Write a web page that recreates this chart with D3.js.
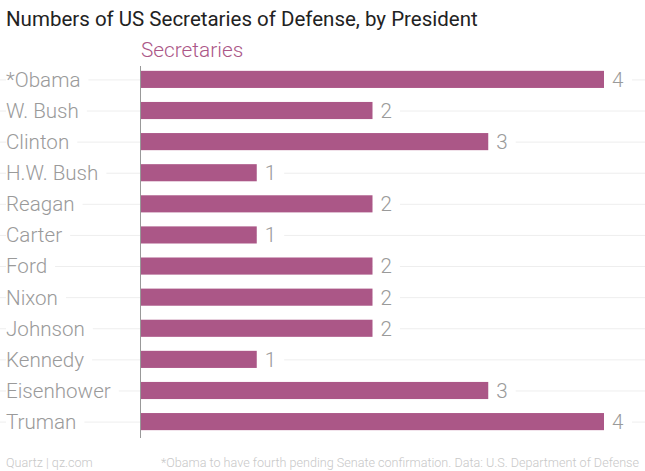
<!DOCTYPE html>
<meta charset="utf-8">
<style>
    body { margin: 0; background: #fff; }
    svg { display: block; font-family: Roboto, "Noto Sans", sans-serif; }
    .title { font-size: 20.5px; fill: #222; }
    .subtitle { font-size: 20.8px; fill: #ab5787; font-weight: 300; }
    .label { font-size: 20.6px; fill: #9a9a9a; font-weight: 300; }
    .value { font-size: 20.6px; fill: #9a9a9a; font-weight: 300; }
    .foot { font-size: 12.6px; fill: #c8c8c8; font-weight: 300; }
    .grid { stroke: #eeeeee; stroke-width: 1; }
</style>
<svg width="645" height="471"></svg>
<script src="https://d3js.org/d3.v7.min.js"></script>
<script>
    var presidents = ["*Obama", "W. Bush", "Clinton", "H.W. Bush", "Reagan", "Carter",
        "Ford", "Nixon", "Johnson", "Kennedy", "Eisenhower", "Truman"];
    var secretaries = [4, 2, 3, 1, 2, 1, 2, 2, 2, 1, 3, 4];

    var svg = d3.select("svg"),
        width = +svg.attr("width"),
        height = +svg.attr("height");

    var x = d3.scaleLinear().domain([0, 4]).range([141, 604]);
    var y = d3.scaleBand().domain(presidents).range([64, 437]).paddingInner(0.45).paddingOuter(0.22);

    var data = presidents.map(function(p, i) { return {name: p, value: secretaries[i]}; });

    // faint row lines
    svg.selectAll(".grid").data(data).enter().append("line")
        .attr("class", "grid")
        .attr("x1", 0).attr("x2", width)
        .attr("y1", function(d) { return y(d.name) + y.bandwidth() / 2 + 0.5; })
        .attr("y2", function(d) { return y(d.name) + y.bandwidth() / 2 + 0.5; });

    // white boxes behind labels so the lines stop short of the text
    var labels = svg.selectAll(".label").data(data).enter().append("text")
        .attr("class", "label")
        .attr("x", 6)
        .attr("y", function(d) { return y(d.name) + y.bandwidth() / 2; })
        .attr("dy", "0.36em")
        .text(function(d) { return d.name; });

    labels.each(function() {
        var b = this.getBBox();
        svg.insert("rect", "text").attr("x", b.x).attr("y", b.y + 4).attr("width", b.width + 8)
            .attr("height", b.height - 6).attr("fill", "#fff");
    });

    svg.selectAll(".bar").data(data).enter().append("rect")
        .attr("class", "bar")
        .attr("x", x(0))
        .attr("y", function(d) { return y(d.name); })
        .attr("width", function(d) { return x(d.value) - x(0); })
        .attr("height", y.bandwidth())
        .attr("fill", "#ab5787");

    var values = svg.selectAll(".value").data(data).enter().append("text")
        .attr("class", "value")
        .attr("x", function(d) { return x(d.value) + 8; })
        .attr("y", function(d) { return y(d.name) + y.bandwidth() / 2; })
        .attr("dy", "0.36em")
        .text(function(d) { return d.value; });

    values.each(function() {
        var b = this.getBBox();
        svg.insert("rect", ".bar").attr("x", b.x - 8).attr("y", b.y + 4).attr("width", b.width + 16)
            .attr("height", b.height - 6).attr("fill", "#fff");
    });

    svg.append("line")
        .attr("x1", x(0) - 0.5).attr("x2", x(0) - 0.5)
        .attr("y1", 66).attr("y2", 438)
        .attr("stroke", "#999").attr("stroke-width", 1);

    svg.append("text").attr("class", "title").attr("x", 6).attr("y", 26)
        .text("Numbers of US Secretaries of Defense, by President");
    svg.append("text").attr("class", "subtitle").attr("x", x(0)).attr("y", 57)
        .text("Secretaries");

    svg.append("text").attr("class", "foot").attr("x", 6).attr("y", 467)
        .text("Quartz | qz.com");
    svg.append("text").attr("class", "foot").attr("x", 639).attr("y", 467)
        .attr("text-anchor", "end")
        .text("*Obama to have fourth pending Senate confirmation. Data: U.S. Department of Defense");
</script>
